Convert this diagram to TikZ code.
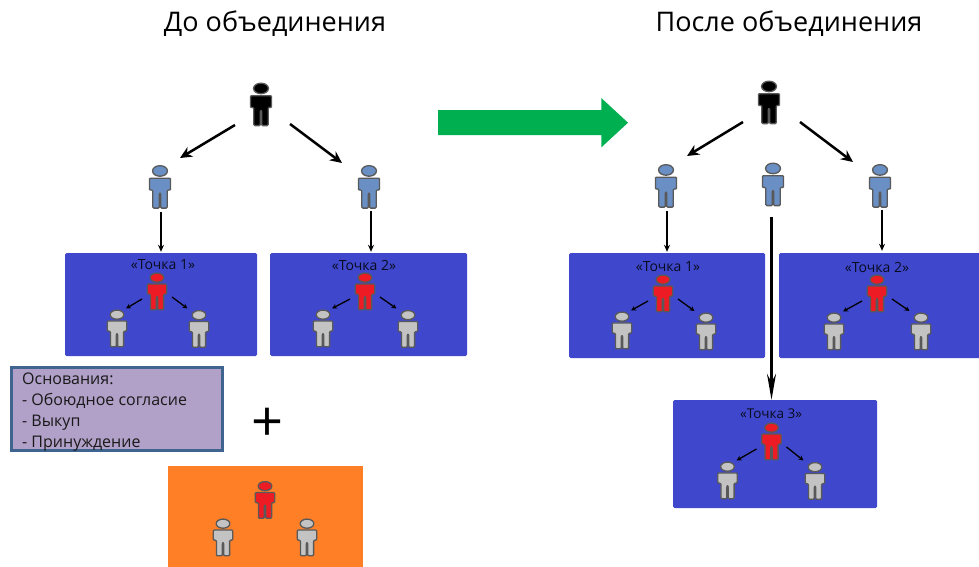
\documentclass[tikz,border=0pt]{standalone}
\usepackage{fontspec}
\setmainfont{Open Sans}
\usetikzlibrary{shapes.arrows, arrows.meta}
\definecolor{bossblue}{HTML}{6A8FC4}
\definecolor{crewgrey}{HTML}{C3C3C3}
\definecolor{headred}{HTML}{ED1C24}
\definecolor{pointblue}{HTML}{3F48CC}
\definecolor{bidorange}{HTML}{FF7F27}
\definecolor{noteviolet}{HTML}{B1A0C7}
\definecolor{noteedge}{HTML}{3F6490}
\definecolor{mergegreen}{HTML}{00B050}
\tikzset{
	person/.style n args={3}{minimum width=#2, minimum height=#3, inner sep=0pt, outer sep=0pt,
		path picture={
			\begin{scope}[shift={(path picture bounding box.center)}, x={(#2,0)}, y={(0,-#3)}]
				\filldraw[fill=#1, draw=black!65, line width=1.3pt] (0,-0.365) ellipse (0.31 and 0.12);
				\filldraw[fill=#1, draw=black!65, line width=1.3pt, line join=round, rounded corners=1pt]
					(-0.44,-0.2) -- (0.44,-0.2) -- (0.44,0.07) -- (0.3,0.07) -- (0.3,0.48) -- (0.03,0.48) -- (0.03,0.14)
					-- (-0.03,0.14) -- (-0.03,0.48) -- (-0.3,0.48) -- (-0.3,0.07) -- (-0.44,0.07) -- cycle;
			\end{scope}
		}},
	crew/.style={person={#1}{22pt}{38pt}},
	chief/.style={person={#1}{24pt}{44pt}},
	point/.style={fill=pointblue, rounded corners=1.5pt, inner sep=0pt},
	pointname/.style={font=\fontsize{14}{14}\selectfont, text=black!85!pointblue, inner sep=0pt},
	title/.style={font=\fontsize{27}{27}\selectfont, inner sep=0pt},
	bigarrow/.style={-{Stealth[length=12pt, width=11pt]}, line width=2.5pt},
	longarrow/.style={-{Stealth[length=26pt, width=9pt]}, line width=2.5pt},
	downarrow/.style={-{Stealth[length=7pt, width=6pt]}, line width=1.7pt},
	crewarrow/.style={-{Stealth[length=5pt, width=5pt]}, line width=1.3pt}
}
\newcommand{\crewarrows}[3]{
	\draw[crewarrow] ([shift={(-4,-11.5)}]#1.south west) -- ([shift={(-2,-1)}]#2.north east);
	\draw[crewarrow] ([shift={(4,-13.5)}]#1.south east) -- ([shift={(-0.5,-1.5)}]#3.north west);
}
\begin{document}
\begin{tikzpicture}[x=1pt, y=-1pt]
	\useasboundingbox (0,0) rectangle (979,567);
	\node[title] (titlebefore) at (275,24) {До объединения};
	\node[title] (titleafter) at (789,24) {После объединения};
	\node[single arrow, fill=mergegreen, minimum height=190pt, minimum width=49pt, inner xsep=0pt, inner ysep=12.25pt, single arrow head extend=12.25pt, single arrow tip angle=85.5, outer sep=0pt, anchor=tail] (merge) at (438,122.7) {};

	% before
	\node[chief=black] (bossa) at (261,104.5) {};
	\node[chief=bossblue] (lefta) at (160,187) {};
	\node[chief=bossblue] (righta) at (369,187) {};
	\draw[bigarrow] ([shift={(-14,-1.5)}]bossa.south west) -- ([shift={(8,-7)}]lefta.north east);
	\draw[bigarrow] ([shift={(17,-2.5)}]bossa.south east) -- ([shift={(-15,-2)}]righta.north west);
	\node[point, minimum width=192pt, minimum height=103pt] (pointa) at (161,304.5) {};
	\node[point, minimum width=197pt, minimum height=103pt] (pointb) at (368.5,304.5) {};
	\draw[downarrow, shorten <=3pt, shorten >=1pt] (lefta.south) ++(1,0) -- (pointa.north);
	\draw[downarrow, shorten <=2pt, shorten >=1pt] (righta.south) ++(2,0) -- ([xshift=2.5pt]pointb.north);
	\node[pointname] (namea) at (163,265) {«Точка 1»};
	\node[pointname] (nameb) at (364,265) {«Точка 2»};
	\node[crew=headred] (reda) at (157,291.5) {};
	\node[crew=crewgrey] (greyaa) at (117,328.5) {};
	\node[crew=crewgrey] (greyab) at (199,329) {};
	\crewarrows{reda}{greyaa}{greyab}
	\node[crew=headred] (redb) at (365,291.5) {};
	\node[crew=crewgrey] (greyba) at (323,328.5) {};
	\node[crew=crewgrey] (greybb) at (408,329) {};
	\crewarrows{redb}{greyba}{greybb}

	\node[draw=noteedge, line width=2.6pt, fill=noteviolet, anchor=north west, minimum width=211pt, minimum height=83pt, inner sep=0pt, outer sep=0pt] (groundsbox) at (11.5,367.5) {};
	\node[anchor=north west, align=left, inner sep=0pt, font=\fontsize{16}{21}\selectfont, text=black!90] (grounds) at (22,373) {Основания:\\- Обоюдное согласие\\- Выкуп\\- Принуждение};
	\node[font=\fontsize{56}{56}\selectfont, inner sep=0pt] (plus) at (268,425) {+};
	\node[fill=bidorange, anchor=north west, minimum width=195pt, minimum height=102pt, inner sep=0pt] (bid) at (168,466) {};
	\node[crew=headred] (redc) at (265,500) {};
	\node[crew=crewgrey] (greyca) at (223,537.5) {};
	\node[crew=crewgrey] (greycb) at (307,537.5) {};

	% after
	\node[chief=black] (bossb) at (769,102.5) {};
	\node[chief=bossblue] (leftb) at (666,186) {};
	\node[chief=bossblue] (midb) at (773,184.5) {};
	\node[chief=bossblue] (rightb) at (880,186) {};
	\draw[bigarrow] ([shift={(-14,-2.5)}]bossb.south west) -- ([shift={(9,-8)}]leftb.north east);
	\draw[bigarrow] ([shift={(19,-2.5)}]bossb.south east) -- ([shift={(-15,-2)}]rightb.north west);
	\node[point, minimum width=196pt, minimum height=105pt] (pointc) at (667,305.5) {};
	\node[point, minimum width=202pt, minimum height=105pt] (pointd) at (880,305.5) {};
	\node[point, minimum width=204pt, minimum height=108pt] (pointe) at (775,454) {};
	\draw[downarrow, shorten <=3pt, shorten >=1pt] (leftb.south) ++(1,0) -- ([xshift=1pt]leftb.south |- pointc.north);
	\draw[downarrow, shorten <=2pt, shorten >=2pt] (rightb.south) ++(2,0) -- ([xshift=2pt]pointd.north);
	\draw[longarrow, shorten <=10pt] (midb.south) ++(-1.5,0) -- ([xshift=-3.5pt]pointe.north);
	\node[pointname] (namec) at (668,267) {«Точка 1»};
	\node[pointname] (named) at (877,267) {«Точка 2»};
	\node[pointname, font=\fontsize{13.5}{14}\selectfont] (namee) at (771,414) {«Точка 3»};
	\node[crew=headred] (redd) at (663,293.5) {};
	\node[crew=crewgrey] (greyda) at (622,330.5) {};
	\node[crew=crewgrey] (greydb) at (706,331.5) {};
	\crewarrows{redd}{greyda}{greydb}
	\node[crew=headred] (rede) at (877,293.5) {};
	\node[crew=crewgrey] (greyea) at (834,331.5) {};
	\node[crew=crewgrey] (greyeb) at (921,331.5) {};
	\crewarrows{rede}{greyea}{greyeb}
	\node[crew=headred] (redf) at (771.5,441.5) {};
	\node[crew=crewgrey] (greyfa) at (727.5,480.5) {};
	\node[crew=crewgrey] (greyfb) at (815,481) {};
	\crewarrows{redf}{greyfa}{greyfb}
\end{tikzpicture}
\end{document}
